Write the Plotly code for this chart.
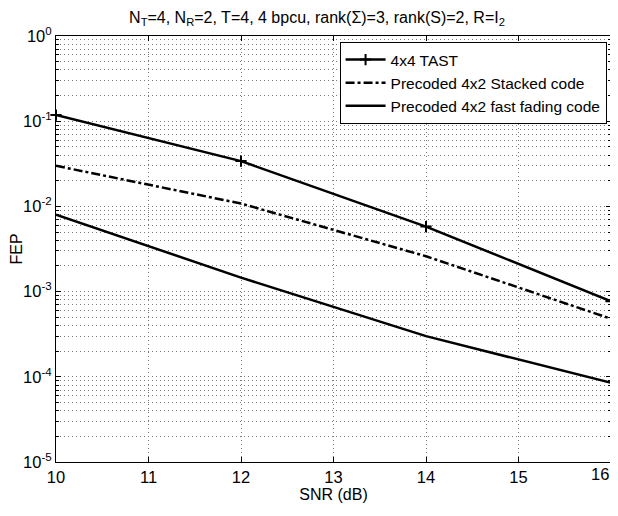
import plotly.graph_objects as go

snr = [10, 12, 14, 16]
tast = [0.118, 0.034, 0.0058, 0.00077]
stacked = [0.030, 0.0108, 0.0026, 0.00048]
fast = [0.0080, 0.00146, 0.00030, 0.000085]

x_ticks = [10, 11, 12, 13, 14, 15, 16]
x_ticklabels = ["10", "11", "12", "13", "14", "15", "16"]
y_tickvals = [1, 0.1, 0.01, 0.001, 0.0001, 0.00001]
y_ticktext = ["10<sup>0</sup>", "10<sup>-1</sup>", "10<sup>-2</sup>", "10<sup>-3</sup>",
              "10<sup>-4</sup>", "10<sup>-5</sup>"]

FONT = "Liberation Sans, Arial, Helvetica, sans-serif"
GRID = "#7a7a7a"
DOT = "1px,3px"
TICK_SIZE = 16.5

fig = go.Figure()
fig.add_trace(go.Scatter(x=snr, y=tast, mode="lines+markers", name="4x4 TAST",
                         cliponaxis=False,
                         line=dict(color="black", width=2.5),
                         marker=dict(symbol="cross-thin", size=8,
                                     line=dict(color="black", width=2))))
fig.add_trace(go.Scatter(x=snr, y=stacked, mode="lines", name="Precoded 4x2 Stacked code",
                         line=dict(color="black", width=2.5, dash="dashdot")))
fig.add_trace(go.Scatter(x=snr, y=fast, mode="lines", name="Precoded 4x2 fast fading code",
                         line=dict(color="black", width=2.5)))

axis_common = dict(showline=True, linecolor="black", linewidth=1, mirror="ticks",
                   ticks="inside", ticklen=5, tickcolor="black",
                   gridcolor=GRID, griddash=DOT, gridwidth=1,
                   zeroline=False, ticklabeloverflow="allow", automargin=False,
                   tickfont=dict(size=TICK_SIZE, color="black", family=FONT))

# last x tick label is drawn right-aligned so it stays inside the page
fig.update_xaxes(range=[10, 16], tickvals=x_ticks, ticktext=x_ticklabels[:-1] + [""],
                 title=dict(text="SNR (dB)", standoff=2,
                            font=dict(size=16, color="black", family=FONT)), **axis_common)
fig.update_yaxes(type="log", range=[-5, 0], tickvals=y_tickvals, ticktext=y_ticktext,
                 title=dict(text="FEP", standoff=0, font=dict(size=16, color="black", family=FONT)),
                 minor=dict(dtick="D1", showgrid=True, gridcolor=GRID, griddash=DOT,
                            gridwidth=1, ticks="inside", ticklen=3, tickcolor="black"),
                 **axis_common)

fig.add_annotation(x=x_ticks[-1], y=0, xref="x", yref="paper", text=x_ticklabels[-1],
                   showarrow=False, xanchor="right", yanchor="top", yshift=-1,
                   font=dict(size=TICK_SIZE, color="black", family=FONT))

fig.update_layout(
    width=618, height=516,
    margin=dict(l=48, r=15, t=28, b=62),
    paper_bgcolor="white", plot_bgcolor="white",
    font=dict(family=FONT, color="black", size=14),
    title=dict(text="N<sub>T</sub>=4, N<sub>R</sub>=2, T=4, 4 bpcu, rank(Σ)=3, rank(S)=2, R=I<sub>2</sub>",
               x=0.5, xanchor="center", y=0.993, yanchor="top",
               font=dict(size=16, color="black", family=FONT)),
    legend=dict(x=0.992, y=0.986, xanchor="right", yanchor="top",
                bgcolor="white", bordercolor="black", borderwidth=1,
                font=dict(size=15.5, color="black", family=FONT),
                itemwidth=40, tracegroupgap=0),
    showlegend=True,
)

fig.write_html("out.html")
